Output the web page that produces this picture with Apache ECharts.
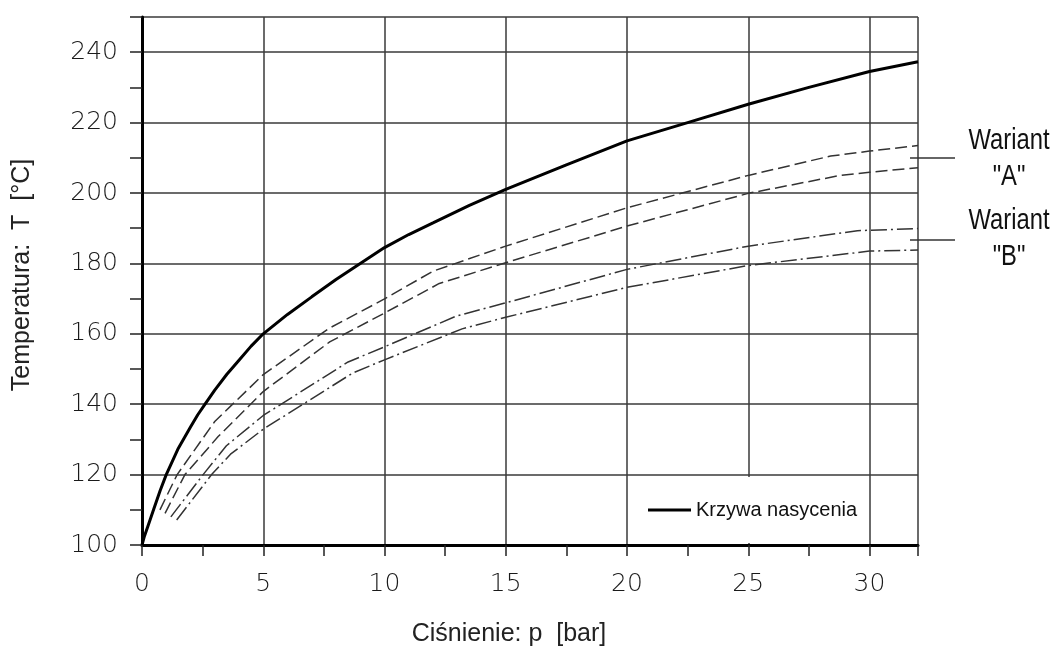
<!DOCTYPE html>
<html>
<head>
<meta charset="utf-8">
<script src="https://cdn.jsdelivr.net/npm/echarts@6/dist/echarts.min.js"></script>
<style>
  html, body { margin: 0; padding: 0; background: #fff; }
  #chart { width: 1056px; height: 648px; }
</style>
</head>
<body>
<div id="chart"></div>
<script>
// ---- data: [pressure p (bar), temperature T (°C)] ----
const saturation = [
  [0, 100], [0.1, 102.5], [0.25, 105.5], [0.5, 110.5], [0.75, 115.5], [1, 120], [1.5, 127.5],
  [2, 133.5], [2.3, 137], [2.6, 140], [3, 144], [3.5, 148.5], [4, 152.5], [4.5, 156.5], [5, 160],
  [6, 165.5], [7, 170.5], [8, 175.4], [9, 180], [10, 184.5], [11, 188.2], [12, 191.5],
  [13.5, 196.5], [15, 201], [17.5, 208], [20, 214.8], [22.5, 220], [25, 225.2],
  [27.5, 230], [30, 234.5], [32, 237.3]
];
const variantA_upper = [
  [0.74, 110], [1.45, 120], [3.0, 135.1], [5, 148.4], [7.7, 161.5], [10, 169.9],
  [12, 177.8], [15, 184.9], [20, 195.8], [25, 205], [28.4, 210.5], [30, 211.9], [32, 213.5]
];
const variantA_lower = [
  [0.95, 109], [1.77, 120], [3.14, 130.8], [5, 143.6], [7.74, 157.7], [10, 165.9],
  [12.26, 174.3], [15, 180.2], [20, 190.6], [25, 199.9], [28.8, 205], [30, 205.9], [32, 207.2]
];
const variantB_upper = [
  [1.19, 108], [2.52, 120], [3.48, 128.2], [5, 136.8], [8.5, 152], [10, 156.3],
  [12.95, 165], [15, 168.8], [20, 178.3], [25, 184.9], [29.5, 189.3], [32, 189.9]
];
const variantB_lower = [
  [1.43, 107.1], [2.87, 120], [3.65, 125.8], [5, 132.9], [8.7, 148.9], [10, 152.6],
  [13.2, 161.4], [15, 164.7], [20, 173.2], [25, 179.4], [30, 183.5], [32, 183.8]
];
const xTickLabels = [0, 5, 10, 15, 20, 25, 30];
const yTickLabels = [100, 120, 140, 160, 180, 200, 220, 240];
const legendName = 'Krzywa nasycenia';
const xTitle = 'Ciśnienie: p  [bar]';
const yTitle = 'Temperatura:  T  [°C]';
const variantWord = 'Wariant';
const variantLetters = ['"A"', '"B"'];

// ---- chart ----
const chart = echarts.init(document.getElementById('chart'), null, { renderer: 'canvas' });
const GRID = '#3a3a3a';
const tickFont = { fontFamily: 'DejaVu Sans', fontWeight: 200, fontSize: 25, color: '#1a1a1a' };
const sans = '"Liberation Sans", Arial, sans-serif';

function varText(txt, x, y) {
  return {
    type: 'text', x: x, y: y, scaleX: 0.82, z: 10,
    style: { text: txt, font: '29px ' + sans, fill: '#111',
             align: 'center', verticalAlign: 'middle', textAlign: 'center', textVerticalAlign: 'middle' }
  };
}

const option = {
  animation: false,
  backgroundColor: '#fff',
  grid: { left: 142, right: 138, top: 17, bottom: 103, containLabel: false },
  xAxis: [
    {
      type: 'value', min: 0, max: 32, interval: 2.5,
      axisLine: { show: true, onZero: false, lineStyle: { color: '#000', width: 3 } },
      axisTick: { show: true, length: 11, lineStyle: { color: '#222', width: 1.5 } },
      axisLabel: Object.assign({
        margin: 27,
        formatter: v => (xTickLabels.indexOf(v) >= 0 ? String(v) : '')
      }, tickFont),
      splitLine: { show: false }
    },
    {
      type: 'value', min: 0, max: 32, interval: 5, position: 'bottom',
      axisLine: { show: false }, axisTick: { show: false }, axisLabel: { show: false },
      splitLine: { show: true, lineStyle: { color: GRID, width: 1.5 } }
    }
  ],
  yAxis: [
    {
      type: 'value', min: 100, max: 250, interval: 10,
      axisLine: { show: true, onZero: false, lineStyle: { color: '#000', width: 3 } },
      axisTick: { show: true, length: 12, lineStyle: { color: '#222', width: 1.5 } },
      axisLabel: Object.assign({
        margin: 24,
        formatter: v => (yTickLabels.indexOf(v) >= 0 ? String(v) : '')
      }, tickFont),
      splitLine: { show: false }
    },
    {
      type: 'value', min: 100, max: 250, interval: 20, position: 'left',
      axisLine: { show: false }, axisTick: { show: false }, axisLabel: { show: false },
      splitLine: { show: true, lineStyle: { color: GRID, width: 1.5 } }
    }
  ],
  legend: {
    data: [{ name: legendName, icon: 'rect' }],
    left: 648, top: 498, padding: 0,
    itemWidth: 43, itemHeight: 3,
    itemStyle: { color: '#000' },
    textStyle: { fontFamily: sans, fontSize: 20, color: '#111', lineHeight: 24 }
  },
  series: [
    {
      name: legendName, type: 'line', data: saturation,
      smooth: false, showSymbol: false, symbol: 'none',
      lineStyle: { color: '#000', width: 3 }, itemStyle: { color: '#000' }, z: 5
    },
    {
      name: 'Wariant A (1)', type: 'line', data: variantA_upper, showSymbol: false, symbol: 'none',
      lineStyle: { color: '#333', width: 1.5, type: [12, 5] }
    },
    {
      name: 'Wariant A (2)', type: 'line', data: variantA_lower, showSymbol: false, symbol: 'none',
      lineStyle: { color: '#333', width: 1.5, type: [12, 5] }
    },
    {
      name: 'Wariant B (1)', type: 'line', data: variantB_upper, showSymbol: false, symbol: 'none',
      lineStyle: { color: '#333', width: 1.5, type: [16, 4, 2, 4] }
    },
    {
      name: 'Wariant B (2)', type: 'line', data: variantB_lower, showSymbol: false, symbol: 'none',
      lineStyle: { color: '#333', width: 1.5, type: [16, 4, 2, 4] }
    }
  ],
  graphic: [
    // mask the p = 25 grid line behind the legend (as in the reference)
    { type: 'rect', z: 1, shape: { x: 743, y: 477, width: 13, height: 66 }, style: { fill: '#fff' } },
    // axis titles
    {
      type: 'text', x: 509, y: 634, z: 10,
      style: { text: xTitle, font: '25px ' + sans, fill: '#222',
               align: 'center', verticalAlign: 'middle', textAlign: 'center', textVerticalAlign: 'middle' }
    },
    {
      type: 'text', x: 22, y: 275, rotation: Math.PI / 2, z: 10,
      style: { text: yTitle, font: '25px ' + sans, fill: '#222',
               align: 'center', verticalAlign: 'middle', textAlign: 'center', textVerticalAlign: 'middle' }
    },
    // variant annotations
    { type: 'line', z: 10, shape: { x1: 910, y1: 158, x2: 955, y2: 158 }, style: { stroke: '#333', lineWidth: 1.5 } },
    { type: 'line', z: 10, shape: { x1: 910, y1: 240, x2: 955, y2: 240 }, style: { stroke: '#333', lineWidth: 1.5 } },
    varText(variantWord, 1009, 141),
    varText(variantLetters[0], 1009, 177),
    varText(variantWord, 1009, 221),
    varText(variantLetters[1], 1009, 257)
  ]
};
chart.setOption(option);
</script>
</body>
</html>
